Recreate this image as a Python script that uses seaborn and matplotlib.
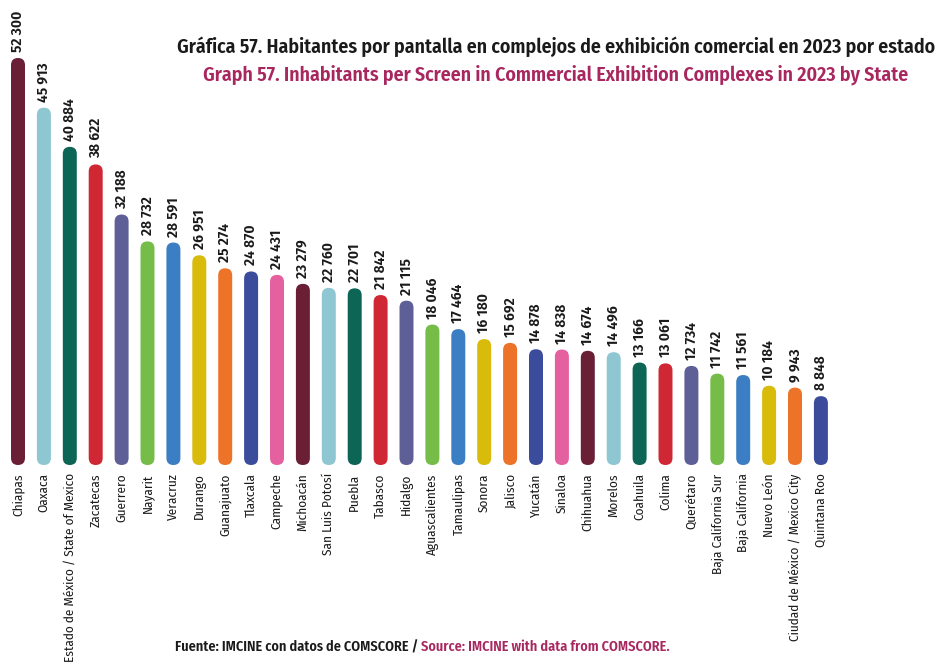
import matplotlib
matplotlib.use("Agg")
import matplotlib.pyplot as plt
from matplotlib import font_manager
from matplotlib.patches import FancyBboxPatch
import seaborn as sns
import pandas as pd

states = [
    "Chiapas", "Oaxaca", "Estado de México / State of Mexico", "Zacatecas",
    "Guerrero", "Nayarit", "Veracruz", "Durango", "Guanajuato", "Tlaxcala",
    "Campeche", "Michoacán", "San Luis Potosí", "Puebla", "Tabasco", "Hidalgo",
    "Aguascalientes", "Tamaulipas", "Sonora", "Jalisco", "Yucatán", "Sinaloa",
    "Chihuahua", "Morelos", "Coahuila", "Colima", "Querétaro",
    "Baja California Sur", "Baja California", "Nuevo León",
    "Ciudad de México / Mexico City", "Quintana Roo",
]
inhabitants = [
    52300, 45913, 40884, 38622, 32188, 28732, 28591, 26951, 25274, 24870,
    24431, 23279, 22760, 22701, 21842, 21115, 18046, 17464, 16180, 15692,
    14878, 14838, 14674, 14496, 13166, 13061, 12734, 11742, 11561, 10184,
    9943, 8848,
]
base_colors = [
    "#6A1F37", "#8EC6D2", "#0C6555", "#CF2734", "#5F5F98", "#75BD48",
    "#3B7EC3", "#D9BB0B", "#EC7328", "#3C4C9D", "#E4609F",
]
bar_colors = [base_colors[i % len(base_colors)] for i in range(len(states))]

title_es = "Gráfica 57. Habitantes por pantalla en complejos de exhibición comercial en 2023 por estado"
title_en = "Graph 57. Inhabitants per Screen in Commercial Exhibition Complexes in 2023 by State"
source_es = "Fuente: IMCINE con datos de COMSCORE / "
source_en = "Source: IMCINE with data from COMSCORE."

MAGENTA = "#A8275F"

sns.set_theme(style="white")

# pick a condensed face if there is one
installed = {f.name for f in font_manager.fontManager.ttflist}
family, scale = "Roboto", 0.9
for name in ["Fira Sans Condensed", "Roboto Condensed", "Open Sans Condensed",
             "Liberation Sans Narrow"]:
    if name in installed:
        family, scale = name, 1.0
        break
plt.rcParams["font.family"] = [family, "DejaVu Sans"]

df = pd.DataFrame({"state": states, "value": inhabitants})

fig = plt.figure(figsize=(9.4, 6.67), dpi=100)
fig.patch.set_facecolor("white")
W, H = 940, 667
ax_bottom_px = 465
ax = fig.add_axes([0, (H - ax_bottom_px) / H, 1, ax_bottom_px / H])

sns.barplot(data=df, x="state", y="value", hue="state", palette=bar_colors,
            dodge=False, legend=False, width=0.54, saturation=1, ax=ax)

spacing = 25.9
x0 = -18 / spacing
ax.set_xlim(x0, x0 + W / spacing)
ax.set_ylim(0, ax_bottom_px / 407 * 52300)

# aspect between data units for rounded caps
xpp = (ax.get_xlim()[1] - ax.get_xlim()[0]) / W
ypp = (ax.get_ylim()[1] - ax.get_ylim()[0]) / ax_bottom_px
aspect = ypp / xpp

rects = list(ax.patches)
for r in rects:
    x, w, h = r.get_x(), r.get_width(), r.get_height()
    fc = r.get_facecolor()
    r.remove()
    ax.add_patch(FancyBboxPatch((x, 0), w, h,
                                boxstyle=f"round,pad=0,rounding_size={w / 2}",
                                mutation_aspect=aspect, facecolor=fc,
                                edgecolor="none"))

for i, v in enumerate(inhabitants):
    ax.text(i, v + 6 * ypp, f"{v:,}".replace(",", " "), rotation=90,
            ha="center", va="bottom", fontsize=11 * scale, fontweight="semibold",
            color="#1a1a1a")

ax.set_xticks(range(len(states)))
ax.set_xticklabels(states, rotation=90, fontsize=9.5 * scale, color="#1a1a1a")
ax.tick_params(axis="x", length=0, pad=6)
ax.set_yticks([])
ax.set_xlabel("")
ax.set_ylabel("")
for s in ax.spines.values():
    s.set_visible(False)
ax.set_facecolor("none")

fig.text(556 / W, 1 - 47 / H, title_es, ha="center", va="center",
         fontsize=14.3 * scale, fontweight="semibold", color="#1a1a1a")
fig.text(556 / W, 1 - 75 / H, title_en, ha="center", va="center",
         fontsize=14.3 * scale, fontweight="semibold", color=MAGENTA)

t1 = fig.text(175 / W, 1 - 647 / H, source_es, ha="left", va="center",
              fontsize=10.2 * scale, fontweight="semibold", color="#1a1a1a")
fig.canvas.draw()
bb = t1.get_window_extent(renderer=fig.canvas.get_renderer())
fig.text(bb.x1 / W, 1 - 647 / H, source_en, ha="left", va="center",
         fontsize=10.2 * scale, fontweight="semibold", color=MAGENTA)

fig.savefig("out.png", dpi=100, facecolor="white")
